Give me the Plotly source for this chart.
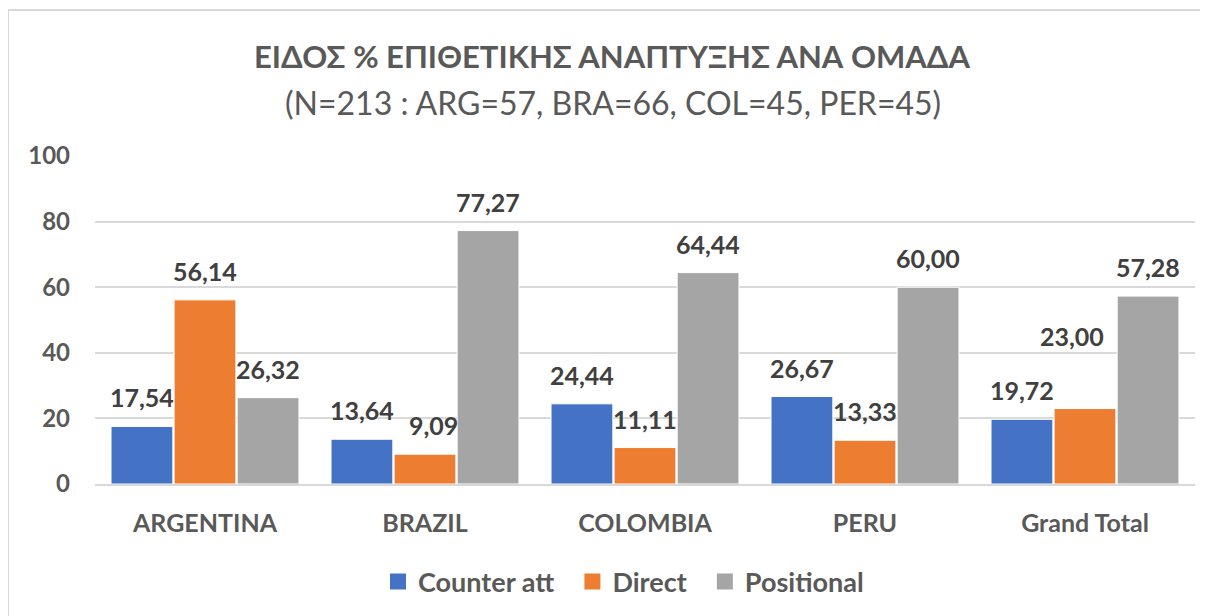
import plotly.graph_objects as go

categories = ["ARGENTINA", "BRAZIL", "COLOMBIA", "PERU", "Grand Total"]
counter_att = [17.54, 13.64, 24.44, 26.67, 19.72]
direct = [56.14, 9.09, 11.11, 13.33, 23.00]
positional = [26.32, 77.27, 64.44, 60.00, 57.28]
series_names = ["Counter att", "Direct", "Positional"]
colors = ["#4472C4", "#ED7D31", "#A5A5A5"]
y_ticks = [0, 20, 40, 60, 80, 100]

FONT = "Lato, Carlito, Calibri, sans-serif"

# label placement tweaks (series index, category) -> (xshift, extra yshift)
label_nudges = {(1, "Grand Total"): (-13, 44), (1, "BRAZIL"): (8, 0)}

def fmt(v):
    return f"{v:.2f}".replace(".", ",")

# plot area in figure pixels (page offset of 8px accounted for)
L, T, R_, B_ = 87, 148, 1187, 476
PW, PH = R_ - L, B_ - T

fig = go.Figure()
all_series = [counter_att, direct, positional]
for i, (name, vals, col) in enumerate(zip(series_names, all_series, colors)):
    fig.add_trace(go.Bar(
        name=name, x=categories, y=vals, showlegend=False,
        marker=dict(color=col, line=dict(color="white", width=1)),
    ))
    for c, v in zip(categories, vals):
        dx, dy = label_nudges.get((i, c), (0, 0))
        fig.add_annotation(x=c, y=v, xref="x", yref="y", text=f"<b>{fmt(v)}</b>",
                           showarrow=False, yanchor="bottom", yshift=12 + dy,
                           xshift=(i - 1) * 63 + dx,
                           font=dict(family=FONT, size=25, color="#404040"))

for name, col in zip(series_names, colors):
    fig.add_trace(go.Scatter(
        name=name + "\u00a0\u00a0", x=[None], y=[None], mode="markers",
        marker=dict(symbol="square", size=16, color=col),
    ))

fig.update_layout(
    width=1208, height=616,
    paper_bgcolor="white", plot_bgcolor="white",
    margin=dict(l=L, r=1208 - R_, t=T, b=616 - B_),
    barmode="group", bargap=0.14, bargroupgap=0.02,
    font=dict(family=FONT, color="#595959"),
    title=dict(text="<b>ΕΙΔΟΣ % ΕΠΙΘΕΤΙΚΗΣ ΑΝΑΠΤΥΞΗΣ ΑΝΑ ΟΜΑΔΑ</b>",
               x=(612 - 8) / 1208, xanchor="center", y=1 - 49 / 616, yanchor="middle",
               font=dict(family=FONT, size=31, color="#595959")),
    yaxis=dict(range=[0, 100], tickvals=y_ticks, showgrid=True,
               gridcolor="#D9D9D9", gridwidth=1.5, zeroline=False,
               showline=False, ticks="", ticklabelstandoff=24,
               tickfont=dict(family=FONT, size=24, color="#595959", weight="bold")),
    xaxis=dict(showline=True, linecolor="#D9D9D9", linewidth=1.5, ticks="",
               tickfont=dict(family=FONT, size=25, color="#595959", weight="bold"),
               ticklabelstandoff=16),
    legend=dict(orientation="h", x=(630 - 8 - L) / PW, xanchor="center",
                y=(484 - 582) / 328, yanchor="middle",
                font=dict(family=FONT, size=27, color="#595959", weight="bold"),
                itemwidth=30, traceorder="normal"),
    showlegend=True,
)

fig.add_annotation(text="(N=213 : ARG=57, BRA=66, COL=45, PER=45)",
                   xref="paper", yref="paper", x=(613 - 8 - L) / PW, y=(484 - 103) / 328,
                   xanchor="center", yanchor="middle", showarrow=False,
                   font=dict(family=FONT, size=32, color="#595959"))

fig.add_shape(type="rect", xref="paper", yref="paper",
              x0=(0 - L) / PW, x1=(1215 - L) / PW,
              y0=(B_ - 625) / PH, y1=(B_ - 2) / PH,
              line=dict(color="#D9D9D9", width=2), fillcolor="rgba(0,0,0,0)", layer="below")

fig.write_html("out.html")
